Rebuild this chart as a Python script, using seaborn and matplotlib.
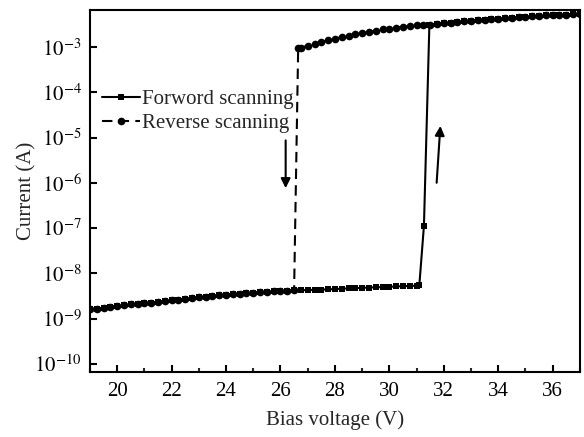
import matplotlib
matplotlib.use("Agg")
import matplotlib.pyplot as plt
import matplotlib.ticker as mticker
import seaborn as sns
import numpy as np

# ---- data (currents given as log10(A)) ----
low_v = [19.0, 19.25, 19.5, 19.75, 20.0, 20.25, 20.5, 20.75, 21.0, 21.25, 21.5, 21.75,
         22.0, 22.25, 22.5, 22.75, 23.0, 23.25, 23.5, 23.75, 24.0, 24.25, 24.5, 24.75,
         25.0, 25.25, 25.5, 25.75, 26.0, 26.25, 26.5, 26.75, 27.0, 27.25, 27.5, 27.75,
         28.0, 28.25, 28.5, 28.75, 29.0, 29.25, 29.5, 29.75, 30.0, 30.25, 30.5, 30.75, 31.0]
low_log = [-8.80, -8.78, -8.76, -8.74, -8.72, -8.71, -8.69, -8.68, -8.66, -8.65, -8.63, -8.62,
           -8.60, -8.58, -8.57, -8.55, -8.53, -8.52, -8.50, -8.49, -8.47, -8.46, -8.45, -8.44,
           -8.43, -8.42, -8.41, -8.40, -8.39, -8.385, -8.38, -8.375, -8.37, -8.365, -8.36, -8.355,
           -8.35, -8.34, -8.335, -8.33, -8.32, -8.315, -8.31, -8.305, -8.30, -8.29, -8.285, -8.28, -8.275]

switch_fwd_v = [31.1, 31.27, 31.47]
switch_fwd_log = [-8.27, -6.95, -2.51]

high_v = [31.75, 32.0, 32.25, 32.5, 32.75, 33.0, 33.25, 33.5, 33.75, 34.0, 34.25,
          34.5, 34.75, 35.0, 35.25, 35.5, 35.75, 36.0, 36.25, 36.5, 36.75, 37.0]
high_log = [-2.48, -2.47, -2.46, -2.44, -2.43, -2.42, -2.40, -2.39, -2.38, -2.37, -2.36,
            -2.35, -2.34, -2.33, -2.32, -2.31, -2.30, -2.29, -2.285, -2.28, -2.27, -2.26]

rev_top_v = [26.65, 26.75, 27.0, 27.25, 27.5, 27.75, 28.0, 28.25, 28.5, 28.75, 29.0, 29.25,
             29.5, 29.75, 30.0, 30.25, 30.5, 30.75, 31.0, 31.25, 31.5]
rev_top_log = [-3.02, -3.01, -2.97, -2.93, -2.89, -2.85, -2.81, -2.78, -2.75, -2.72, -2.69, -2.66,
               -2.64, -2.61, -2.59, -2.57, -2.55, -2.54, -2.52, -2.51, -2.50]

xticks = [20, 22, 24, 26, 28, 30, 32, 34, 36]
yticks_exp = [-10, -9, -8, -7, -6, -5, -4, -3]

# forward: low branch -> switch -> high branch
fwd_v = low_v + switch_fwd_v + high_v
fwd_i = [10 ** v for v in (low_log + switch_fwd_log + high_log)]
# reverse: low branch up to 26.5 V, jump to the high state, high branch
n_rev_low = low_v.index(26.5) + 1
rev_v = low_v[:n_rev_low] + rev_top_v + high_v
rev_i = [10 ** v for v in (low_log[:n_rev_low] + rev_top_log + high_log)]

# ---- style ----
sns.set_style("ticks")
plt.rcParams["font.family"] = ["Liberation Serif", "DejaVu Serif"]
plt.rcParams["mathtext.fontset"] = "stix"
plt.rcParams["font.size"] = 15

fig = plt.figure(figsize=(5.84, 4.37), dpi=100)
ax = fig.add_axes([0.154, 0.149, 0.839, 0.828])

sns.lineplot(x=fwd_v, y=fwd_i, ax=ax, color="black", linewidth=1.5, marker="s",
             markersize=5, markeredgewidth=0, estimator=None, sort=False,
             label="Forword scanning")
sns.lineplot(x=rev_v, y=rev_i, ax=ax, color="black", linewidth=1.5, marker="o",
             markersize=5.5, markeredgewidth=0, estimator=None, sort=False,
             linestyle=(0, (5, 3)), label="Reverse scanning")

ax.set_yscale("log")
ax.set_xlim(19, 37)
ax.set_ylim(10 ** -10.18, 10 ** -2.18)
ax.set_xticks(xticks)
ax.xaxis.set_minor_locator(mticker.MultipleLocator(1))
ax.set_yticks([10.0 ** e for e in yticks_exp])
ax.yaxis.set_minor_locator(mticker.NullLocator())
ax.yaxis.set_major_formatter(mticker.FuncFormatter(lambda v, p: r"$10^{%d}$" % round(np.log10(v))))

ax.tick_params(axis="both", which="major", direction="in", length=5, width=1.5,
               labelsize=15, colors="black")
ax.tick_params(axis="x", which="major", pad=7)
ax.tick_params(axis="y", which="major", pad=6)
ax.tick_params(axis="x", which="minor", direction="in", length=3, width=1.5)
for s in ax.spines.values():
    s.set_linewidth(1.5)
    s.set_color("black")

ax.set_xlabel("Bias voltage (V)", fontsize=15)
ax.set_ylabel("Current (A)", fontsize=15)
ax.xaxis.set_label_coords(0.5, -0.105)
ax.yaxis.set_label_coords(-0.11, 0.5)

# arrows
ax.annotate("", xy=(26.19, 10 ** -6.18), xytext=(26.19, 10 ** -5.0),
            arrowprops=dict(arrowstyle="-|>", color="black", lw=1.5, mutation_scale=14))
ax.annotate("", xy=(31.88, 10 ** -4.68), xytext=(31.73, 10 ** -6.06),
            arrowprops=dict(arrowstyle="-|>", color="black", lw=1.5, mutation_scale=14))

leg = ax.legend(loc="upper left", bbox_to_anchor=(0.0, 0.815), frameon=False,
                fontsize=15, handlelength=1.8, handletextpad=0.1, labelspacing=0.2,
                borderaxespad=0.2)

fig.savefig("out.png", dpi=100)
